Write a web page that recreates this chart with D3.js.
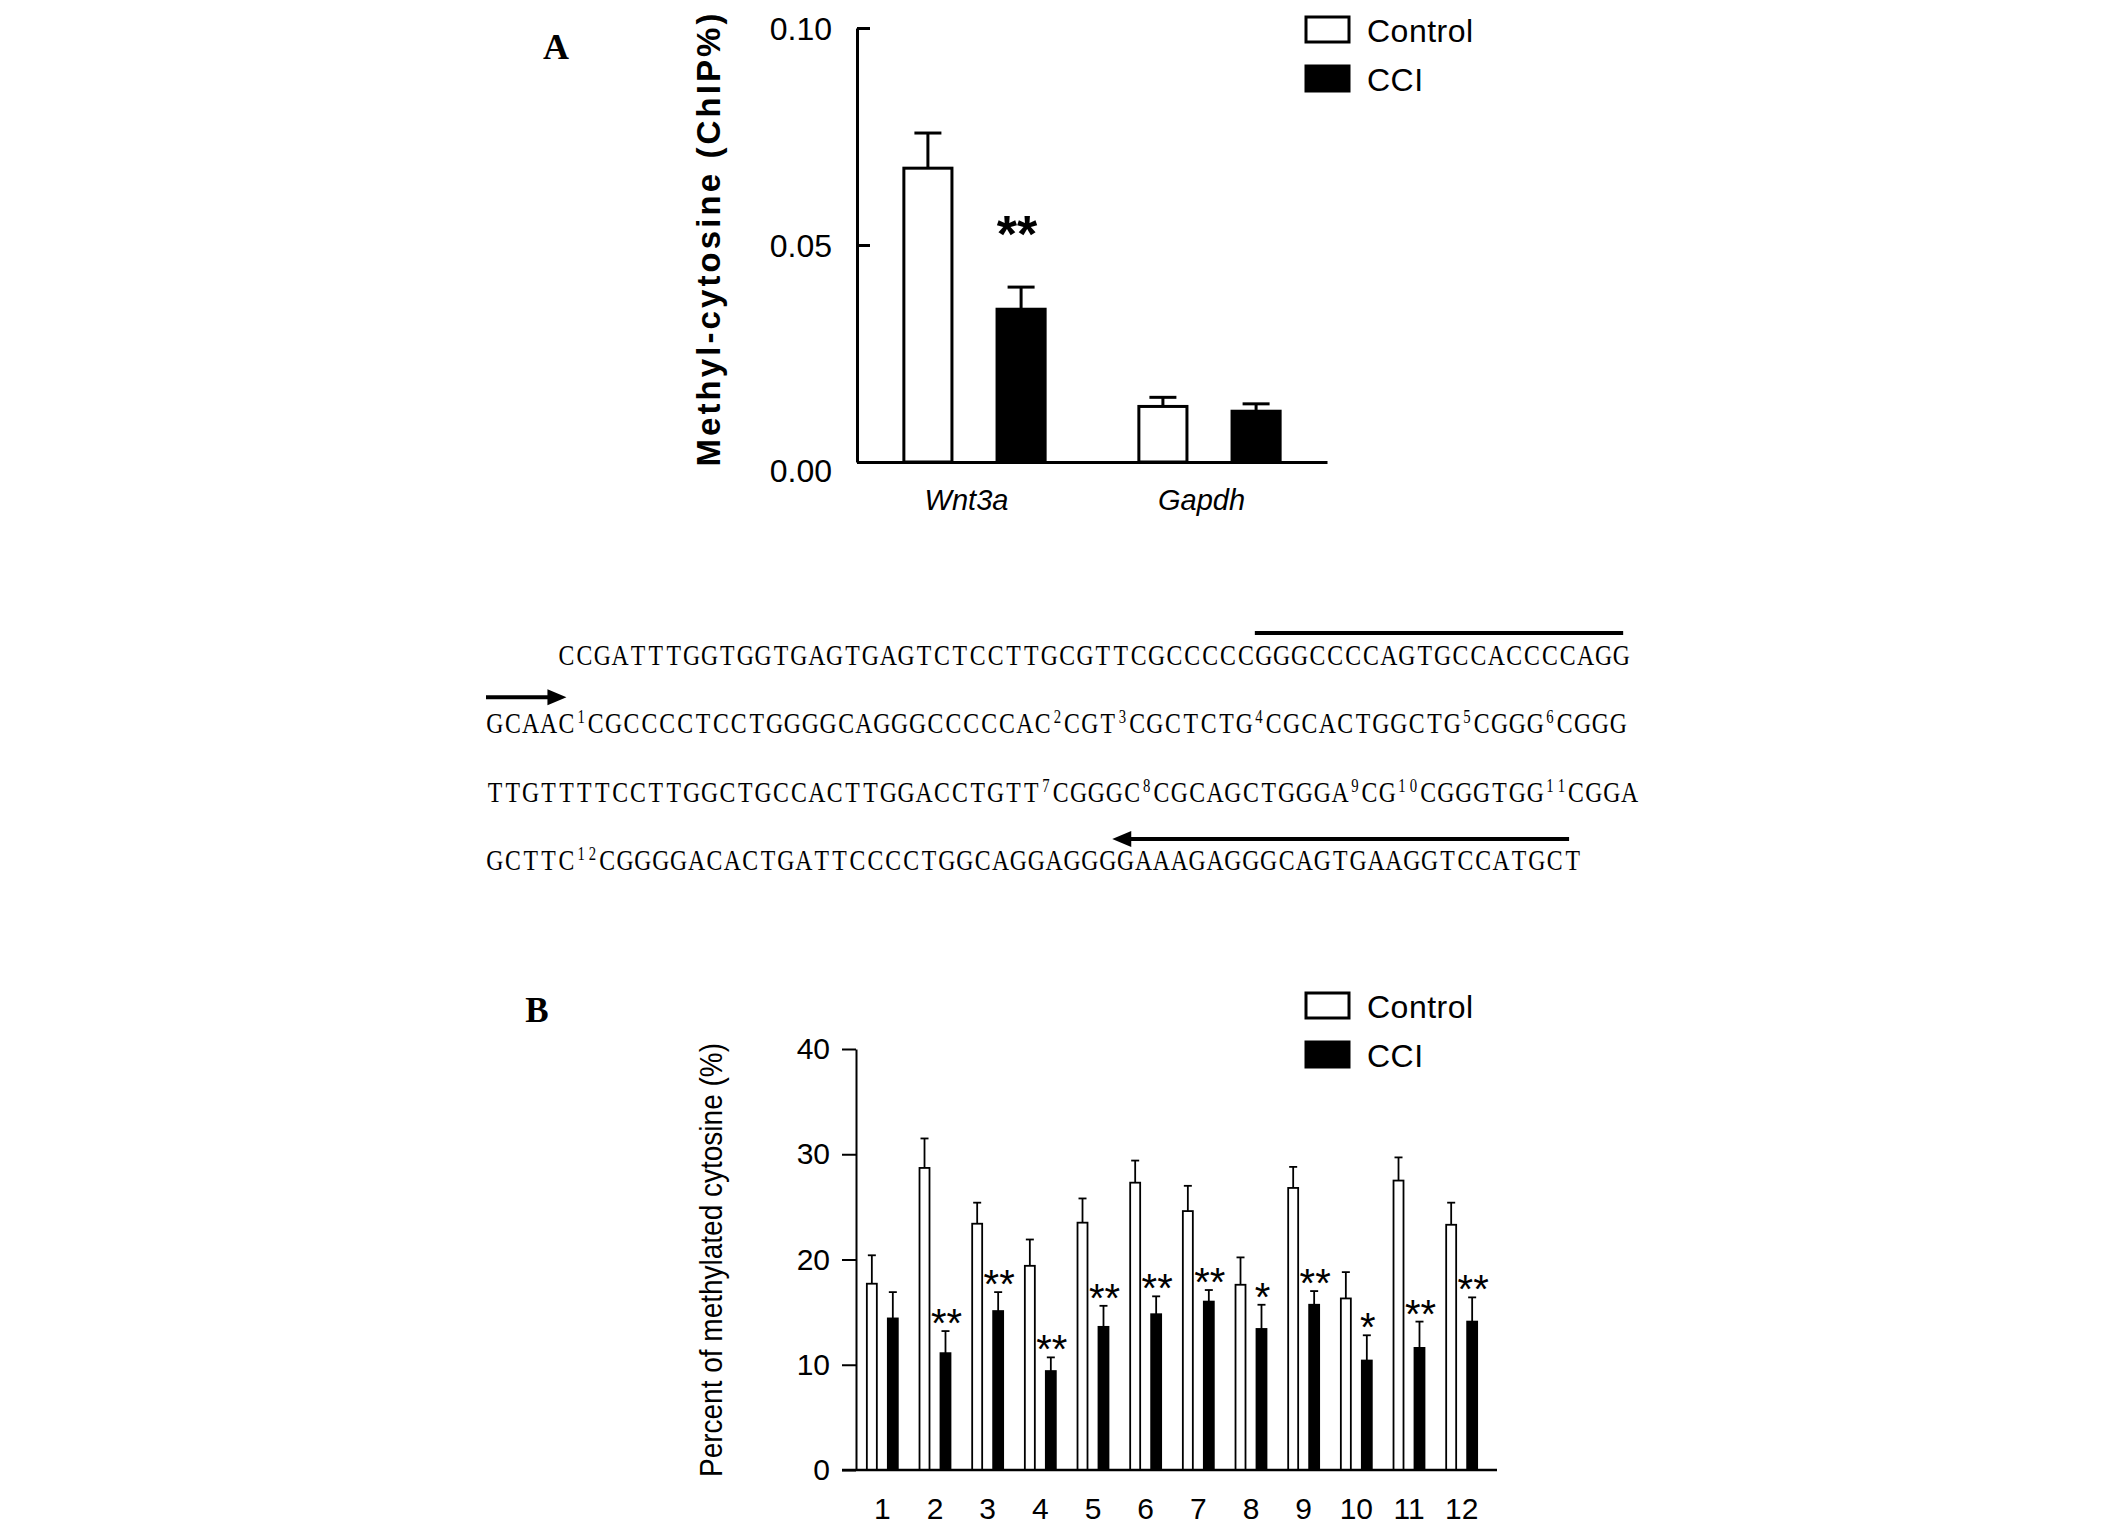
<!DOCTYPE html>
<html>
<head>
<meta charset="utf-8">
<script src="https://cdn.jsdelivr.net/npm/d3@7"></script>
<style>
body{margin:0;background:#fff;}
svg text{font-family:"Liberation Sans",Arial,sans-serif;fill:#000;}
</style>
</head>
<body>
<div id="chart"></div>
<script>
// ---- panel A : ChIP
var genes = ["Wnt3a", "Gapdh"];
var groups = ["Control", "CCI"];
var chipControl = [0.0677, 0.0128];
var chipControlErr = [0.0081, 0.0021];
var chipCCI = [0.0352, 0.0117];
var chipCCIErr = [0.0051, 0.0017];
var chipStars = ["**", ""];
var chipTicks = [0, 0.05, 0.10];

// ---- panel B : bisulfite, 12 CpG sites
var sites = ["1","2","3","4","5","6","7","8","9","10","11","12"];
var pctControl = [17.7, 28.7, 23.4, 19.4, 23.5, 27.3, 24.6, 17.6, 26.8, 16.3, 27.5, 23.3];
var pctControlErr = [2.7, 2.8, 2.0, 2.5, 2.3, 2.1, 2.4, 2.6, 2.0, 2.5, 2.2, 2.1];
var pctCCI = [14.4, 11.1, 15.1, 9.4, 13.6, 14.8, 16.0, 13.4, 15.7, 10.4, 11.6, 14.1];
var pctCCIErr = [2.5, 2.1, 1.8, 1.3, 2.0, 1.7, 1.1, 2.3, 1.3, 2.4, 2.5, 2.3];
var pctStars = ["", "**", "**", "**", "**", "**", "**", "*", "**", "*", "**", "**"];
var pctTicks = [0, 10, 20, 30, 40];

// ---- promoter sequence (main text, superscript, main, ...)
var seqRows = [
  ["CCGATTTGGTGGTGAGTGAGTCTCCTTGCGTTCGCCCCCGGGCCCCAGTGCCACCCCAGG"],
  ["GCAAC","1","CGCCCCTCCTGGGGCAGGGCCCCCAC","2","CGT","3","CGCTCTG","4","CGCACTGGCTG","5","CGGG","6","CGGG"],
  ["TTGTTTTCCTTGGCTGCCACTTGGACCTGTT","7","CGGGC","8","CGCAGCTGGGA","9","CG","10","CGGGTGG","11","CGGA"],
  ["GCTTC","12","CGGGGACACTGATTCCCCTGGCAGGAGGGGAAAGAGGGCAGTGAAGGTCCATGCT"]
];
var seqIndent = [4, 0, 0, 0];

var svg = d3.select("#chart").append("svg").attr("width", 2126).attr("height", 1527);

function drawBars(g, data, x0, x1, y, o) {
  var grp = g.selectAll(".grp").data(data).enter().append("g")
    .attr("transform", d => "translate(" + x0(d.key) + ",0)");
  var bar = grp.selectAll(".bar").data(d => d.values).enter().append("g");
  bar.append("rect")
    .attr("x", d => x1(d.grp))
    .attr("y", d => y(d.v))
    .attr("width", x1.bandwidth())
    .attr("height", d => y(0) - y(d.v))
    .attr("fill", d => d.grp == "Control" ? "#fff" : "#000")
    .attr("stroke", "#000").attr("stroke-width", o.bw);
  bar.append("line")
    .attr("x1", d => x1(d.grp) + x1.bandwidth() / 2)
    .attr("x2", d => x1(d.grp) + x1.bandwidth() / 2)
    .attr("y1", d => y(d.v)).attr("y2", d => y(d.v + d.e))
    .attr("stroke", "#000").attr("stroke-width", o.ew);
  bar.append("line")
    .attr("x1", d => x1(d.grp) + x1.bandwidth() / 2 - o.cap / 2)
    .attr("x2", d => x1(d.grp) + x1.bandwidth() / 2 + o.cap / 2)
    .attr("y1", d => y(d.v + d.e)).attr("y2", d => y(d.v + d.e))
    .attr("stroke", "#000").attr("stroke-width", o.ew);
  // significance marks above CCI
  grp.append("text")
    .attr("x", d => x1("CCI") + x1.bandwidth() / 2 + o.starDx)
    .attr("y", d => y(d.values[1].v + d.values[1].e) + o.starDy)
    .attr("text-anchor", "middle")
    .style("font-size", o.starSize + "px")
    .style("font-weight", o.starWeight)
    .text(d => d.star);
}

function legend(g, x, y0, gap, size) {
  groups.forEach(function(k, i) {
    g.append("rect").attr("x", x).attr("y", y0 + i * gap).attr("width", 43).attr("height", 25)
      .attr("fill", k == "Control" ? "#fff" : "#000").attr("stroke", "#000").attr("stroke-width", 3);
    g.append("text").attr("x", x + 61).attr("y", y0 + i * gap + 25)
      .style("font-size", size + "px").style("letter-spacing", "0.5px").text(k);
  });
}

// ================= panel A
var gA = svg.append("g");
var yA = d3.scaleLinear().domain([0, 0.1]).range([462, 28]);
var xA = d3.scaleBand().domain(genes).range([857, 1327]);
var xA1 = d3.scaleBand().domain(groups).range([0, xA.bandwidth()]).paddingInner(0.484).paddingOuter(0.503);

var chipData = genes.map((k, i) => ({
  key: k, star: chipStars[i],
  values: [{grp: "Control", v: chipControl[i], e: chipControlErr[i]},
           {grp: "CCI", v: chipCCI[i], e: chipCCIErr[i]}]
}));
drawBars(gA, chipData, xA, xA1, yA, {bw: 3, ew: 3, cap: 27, starDx: -4, starDy: -35, starSize: 52, starWeight: "bold"});

var yAxisA = gA.append("g").attr("transform", "translate(857,0)")
  .call(d3.axisLeft(yA).tickValues(chipTicks).tickSizeInner(-13).tickSizeOuter(0).tickPadding(25).tickFormat(d3.format(".2f")));
yAxisA.selectAll("path,line").attr("stroke", "#000").attr("stroke-width", 3);
yAxisA.selectAll("text").style("font-size", "32px").attr("dy", d => d == 0 ? "0.6em" : "0.35em");

var xAxisA = gA.append("g").attr("transform", "translate(0,462)")
  .call(d3.axisBottom(xA).tickSize(0).tickPadding(27));
xAxisA.select("path").attr("stroke", "#000").attr("stroke-width", 3);
xAxisA.selectAll("text").style("font-size", "29px").style("font-style", "italic").attr("x", -8);

gA.append("text").attr("transform", "translate(720,240) rotate(-90)")
  .attr("text-anchor", "middle").attr("textLength", 453).attr("lengthAdjust", "spacing")
  .style("font-size", "33px").style("font-weight", "bold").text("Methyl-cytosine (ChIP%)");
gA.append("text").attr("x", 556).attr("y", 59).attr("text-anchor", "middle")
  .style("font-family", "'Liberation Serif','Times New Roman',serif").style("font-size", "36px").style("font-weight", "bold").text("A");
legend(gA, 1306, 17, 49, 32);

// ================= sequence (typewriter layout: one cell per base)
var gS = svg.append("g");
var adv = 17.88, supAdv = 11.4, sx = 0.82;
var rowY = d3.scaleLinear().domain([0, 3]).range([665, 870]);
function charX(r, k) {
  var x = 486 + seqIndent[r] * adv, n = 0;
  for (var i = 0; i < seqRows[r].length; i++) {
    var s = seqRows[r][i];
    if (i % 2 == 0) {
      if (k <= n + s.length) return x + (k - n) * adv;
      x += s.length * adv; n += s.length;
    } else {
      x += s.length * supAdv;
    }
  }
  return x;
}
var gSeq = gS.append("g").attr("transform", "scale(" + sx + ",1)");
seqRows.forEach(function(row, r) {
  var t = gSeq.append("text").attr("text-anchor", "middle")
    .style("font-family", "'Liberation Serif','Times New Roman',serif");
  var x = 486 + seqIndent[r] * adv;
  row.forEach(function(s, i) {
    var sup = i % 2 == 1, w = sup ? supAdv : adv;
    var xs = s.split("").map((c, j) => ((x + j * w + w / 2) / sx).toFixed(2));
    t.append("tspan").attr("x", xs.join(" ")).attr("y", sup ? rowY(r) - 10 : rowY(r))
      .style("font-size", sup ? "18px" : "29px").text(s);
    x += s.length * w;
  });
});
// primer marks
gS.append("line").attr("x1", charX(0, 39)).attr("x2", charX(0, 59.6))
  .attr("y1", rowY(0) - 32).attr("y2", rowY(0) - 32).attr("stroke", "#000").attr("stroke-width", 4);
function arrow(r, from, to, off) {
  var x1 = charX(r, from), x2 = charX(r, to), yy = rowY(r) - off, dir = x2 > x1 ? 1 : -1;
  gS.append("line").attr("x1", x1).attr("x2", x2 - dir * 14).attr("y1", yy).attr("y2", yy)
    .attr("stroke", "#000").attr("stroke-width", 4);
  gS.append("path").attr("d", "M" + x2 + "," + yy + "L" + (x2 - dir * 19) + "," + (yy - 8) + "L" + (x2 - dir * 19) + "," + (yy + 8) + "Z")
    .attr("fill", "#000");
}
arrow(1, 0, 4.5, 36);
arrow(3, 59.3, 33.75, 31);

// ================= panel B
var gB = svg.append("g");
var yB = d3.scaleLinear().domain([0, 40]).range([1470, 1049]);
var xB = d3.scaleBand().domain(sites).range([856, 1488]);
var xB1 = d3.scaleBand().domain(groups).range([0, xB.bandwidth()]).paddingInner(0.524).paddingOuter(0.517);

var pctData = sites.map((k, i) => ({
  key: k, star: pctStars[i],
  values: [{grp: "Control", v: pctControl[i], e: pctControlErr[i]},
           {grp: "CCI", v: pctCCI[i], e: pctCCIErr[i]}]
}));
drawBars(gB, pctData, xB, xB1, yB, {bw: 1.8, ew: 1.8, cap: 8, starDx: 1, starDy: 6, starSize: 40, starWeight: "normal"});

var yAxisB = gB.append("g").attr("transform", "translate(856,0)")
  .call(d3.axisLeft(yB).tickValues(pctTicks).tickSize(14).tickSizeOuter(0).tickPadding(12));
yAxisB.selectAll("path,line").attr("stroke", "#000").attr("stroke-width", 2);
yAxisB.selectAll("text").style("font-size", "30px");

var xAxisB = gB.append("g").attr("transform", "translate(0,1470)")
  .call(d3.axisBottom(xB).tickSize(0).tickPadding(28));
xAxisB.select("path").attr("d", "M842,0H1497").attr("stroke", "#000").attr("stroke-width", 2.5);
xAxisB.selectAll("text").style("font-size", "30px");

gB.append("text").attr("transform", "translate(722,1260) rotate(-90)")
  .attr("text-anchor", "middle").attr("textLength", 434).attr("lengthAdjust", "spacingAndGlyphs")
  .style("font-size", "31px").text("Percent of methylated cytosine (%)");
gB.append("text").attr("x", 537).attr("y", 1022).attr("text-anchor", "middle")
  .style("font-family", "'Liberation Serif','Times New Roman',serif").style("font-size", "35px").style("font-weight", "bold").text("B");
legend(gB, 1306, 993, 49, 32);
</script>
</body>
</html>
